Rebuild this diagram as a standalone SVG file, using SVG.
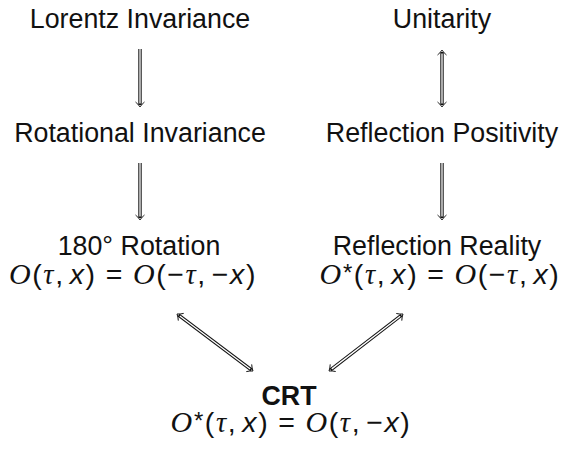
<svg xmlns="http://www.w3.org/2000/svg" width="570" height="451" viewBox="0 0 570 451">
<style>
.t{font-family:"Liberation Sans","DejaVu Sans",sans-serif;font-size:26.8px;fill:#111;text-anchor:middle}
.b{font-weight:bold}
.m{font-family:"Liberation Sans","DejaVu Sans",sans-serif;font-size:28.5px;fill:#111;text-anchor:middle;letter-spacing:1.6px}
.o{font-family:"Liberation Serif","DejaVu Serif",serif;font-style:italic;font-size:30px}
.g{font-family:"Liberation Serif","DejaVu Serif",serif;font-style:italic}
.x{font-style:italic}
.s{font-size:24px}
.out{stroke:#111;stroke-width:3.4;fill:none}
.in{stroke:#fff;stroke-width:1.3;fill:none}
.hd{stroke:#111;stroke-width:0.9;fill:none;stroke-linejoin:miter}
</style>
<rect width="570" height="451" fill="#fff"/>
<g id="connectors">
<g id="e1" transform="translate(140,49) rotate(90)">
<line class="out" x1="0" y1="0" x2="56" y2="0"/><line class="in" x1="0" y1="0" x2="54.5" y2="0"/>
<path class="hd" d="M53,-4.5 Q55.5,-1.5 58,0 Q55.5,1.5 53,4.5"/>
</g>
<g id="e2" transform="translate(442,50) rotate(90)">
<line class="out" x1="2" y1="0" x2="55" y2="0"/><line class="in" x1="3.5" y1="0" x2="53.5" y2="0"/>
<path class="hd" d="M5,-4.5 Q2.5,-1.5 0,0 Q2.5,1.5 5,4.5"/>
<path class="hd" d="M52,-4.5 Q54.5,-1.5 57,0 Q54.5,1.5 52,4.5"/>
</g>
<g id="e3" transform="translate(140,163) rotate(90)">
<line class="out" x1="0" y1="0" x2="55" y2="0"/><line class="in" x1="0" y1="0" x2="53.5" y2="0"/>
<path class="hd" d="M52,-4.5 Q54.5,-1.5 57,0 Q54.5,1.5 52,4.5"/>
</g>
<g id="e4" transform="translate(442,163) rotate(90)">
<line class="out" x1="0" y1="0" x2="55" y2="0"/><line class="in" x1="0" y1="0" x2="53.5" y2="0"/>
<path class="hd" d="M52,-4.5 Q54.5,-1.5 57,0 Q54.5,1.5 52,4.5"/>
</g>
<g id="e5" transform="translate(177,314) rotate(36.87)">
<line class="out" x1="2" y1="0" x2="93" y2="0"/><line class="in" x1="3.5" y1="0" x2="91.5" y2="0"/>
<path class="hd" d="M5,-4.5 Q2.5,-1.5 0,0 Q2.5,1.5 5,4.5"/>
<path class="hd" d="M90,-4.5 Q92.5,-1.5 95,0 Q92.5,1.5 90,4.5"/>
</g>
<g id="e6" transform="translate(329,371) rotate(-37.6)">
<line class="out" x1="2" y1="0" x2="91.4" y2="0"/><line class="in" x1="3.5" y1="0" x2="89.9" y2="0"/>
<path class="hd" d="M5,-4.5 Q2.5,-1.5 0,0 Q2.5,1.5 5,4.5"/>
<path class="hd" d="M88.4,-4.5 Q90.9,-1.5 93.4,0 Q90.9,1.5 88.4,4.5"/>
</g>
</g>
<g id="lorentz"><text class="t" x="140" y="28">Lorentz Invariance</text></g>
<g id="unitarity"><text class="t" x="442" y="28">Unitarity</text></g>
<g id="rotational"><text class="t" x="140" y="142">Rotational Invariance</text></g>
<g id="reflpos"><text class="t" x="442" y="142">Reflection Positivity</text></g>
<g id="rot180">
<text class="t" x="139" y="255">180° Rotation</text>
<text class="m" x="133" y="284"><tspan class="o">O</tspan>(<tspan class="g">τ</tspan>,<tspan class="x" dx="5">x</tspan>)<tspan dx="9">=</tspan><tspan class="o" dx="9">O</tspan>(−<tspan class="g">τ</tspan>,<tspan dx="5">−</tspan><tspan class="x">x</tspan>)</text>
</g>
<g id="reflreal">
<text class="t" x="437" y="255">Reflection Reality</text>
<text class="m" x="440" y="284"><tspan class="o">O</tspan><tspan class="s" dy="-3">*</tspan><tspan dy="3">(</tspan><tspan class="g">τ</tspan>,<tspan class="x" dx="5">x</tspan>)<tspan dx="9">=</tspan><tspan class="o" dx="9">O</tspan>(−<tspan class="g">τ</tspan>,<tspan class="x" dx="5">x</tspan>)</text>
</g>
<g id="crt">
<text class="t b" x="289" y="405">CRT</text>
<text class="m" x="291" y="432"><tspan class="o">O</tspan><tspan class="s" dy="-3">*</tspan><tspan dy="3">(</tspan><tspan class="g">τ</tspan>,<tspan class="x" dx="5">x</tspan>)<tspan dx="9">=</tspan><tspan class="o" dx="9">O</tspan>(<tspan class="g">τ</tspan>,<tspan dx="5">−</tspan><tspan class="x">x</tspan>)</text>
</g>
</svg>
